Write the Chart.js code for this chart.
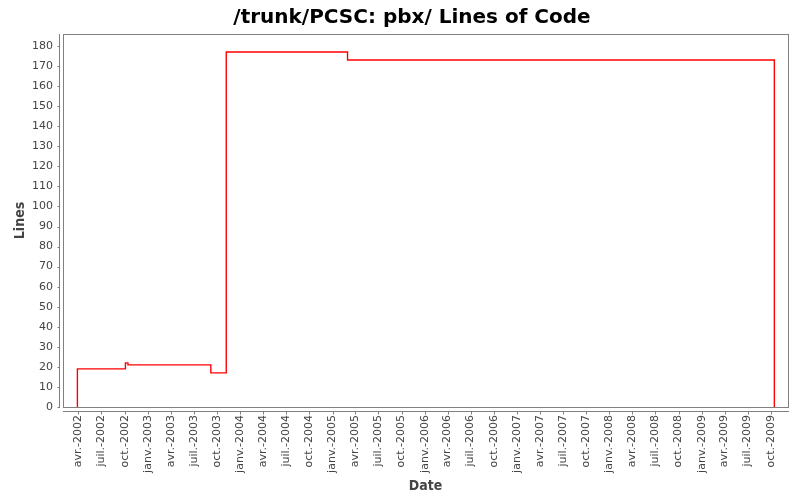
<!DOCTYPE html>
<html>
<head>
<meta charset="utf-8">
<script src="https://cdn.jsdelivr.net/npm/chart.js@4/dist/chart.umd.min.js"></script>
<style>
  html, body { margin: 0; padding: 0; background: #fff; }
  #chart { display: block; }
</style>
</head>
<body>
<canvas id="chart" width="800" height="500"></canvas>
<script>
// Commits (date) and lines of code
const commitDates = ['2002-03-28', '2002-03-28', '2002-10-04', '2002-10-14', '2003-09-07', '2003-11-07', '2005-03-01', '2009-10-15'];
const linesOfCode = [0, 19, 22, 21, 17, 177, 173, 0];

// Axis range
const dateMin = '2002-01-30';
const dateMax = '2009-12-08';
const linesMax = 186;

// Quarter ticks: avr.-2002 ... oct.-2009
const monthNames = ['janv.', 'févr.', 'mars', 'avr.', 'mai', 'juin', 'juil.', 'août', 'sept.', 'oct.', 'nov.', 'déc.'];
const quarterTicks = [];
for (let y = 2002, m = 3; y < 2009 || (y === 2009 && m <= 9); m += 3) {
  if (m > 11) { m -= 12; y++; }
  quarterTicks.push(Date.UTC(y, m, 1));
}

const FONT = "'DejaVu Sans', sans-serif";
const AXIS_GREY = '#808080';

// JFreeChart-like frame: plot outline + axis lines offset from it
const framePlugin = {
  id: 'frame',
  afterLayout(chart) {
    // left padding only serves to centre the title; let the y axis use it
    chart.scales.y.left = 0;
  },
  afterDraw(chart) {
    const { ctx, chartArea: a, scales } = chart;
    ctx.save();
    ctx.strokeStyle = AXIS_GREY;
    ctx.lineWidth = 1;
    ctx.strokeRect(a.left + 0.5, a.top + 0.5, a.right - a.left, a.bottom - a.top);

    // y axis
    const ax = a.left - 4 + 0.5;
    ctx.beginPath();
    ctx.moveTo(ax, a.top);
    ctx.lineTo(ax, a.bottom + 1);
    scales.y.ticks.forEach(t => {
      const py = Math.round(scales.y.getPixelForValue(t.value)) + 0.5;
      ctx.moveTo(ax - 2, py);
      ctx.lineTo(ax, py);
    });
    // x axis
    const ay = a.bottom + 4 + 0.5;
    ctx.moveTo(a.left, ay);
    ctx.lineTo(a.right + 1, ay);
    scales.x.ticks.forEach(t => {
      const px = Math.round(scales.x.getPixelForValue(t.value)) + 0.5;
      ctx.moveTo(px, ay);
      ctx.lineTo(px, ay + 3);
    });
    ctx.stroke();
    ctx.restore();
  }
};

new Chart(document.getElementById('chart'), {
  type: 'line',
  data: {
    datasets: [{
      label: 'Lines',
      data: commitDates.map((d, i) => ({ x: Date.parse(d), y: linesOfCode[i] })),
      borderColor: '#ff0000',
      borderWidth: 1.4,
      pointRadius: 0,
      stepped: 'before',
      fill: false
    }]
  },
  options: {
    responsive: false,
    animation: false,
    devicePixelRatio: 1,
    layout: { padding: { left: 36, right: 12, top: 0, bottom: 0 } },
    plugins: {
      legend: { display: false },
      tooltip: { enabled: false },
      title: {
        display: true,
        text: '/trunk/PCSC: pbx/ Lines of Code',
        color: '#000',
        font: { family: "'DejaVu Sans', sans-serif", size: 20, weight: 'bold', lineHeight: 1.2 },
        padding: { top: 6, bottom: 4 }
      }
    },
    scales: {
      x: {
        type: 'linear',
        bounds: 'data',
        min: Date.parse(dateMin),
        max: Date.parse(dateMax),
        afterBuildTicks: scale => { scale.ticks = quarterTicks.map(v => ({ value: v })); },
        afterFit: scale => { scale.height = 93; },
        grid: { display: true, drawOnChartArea: false, drawTicks: false },
        border: { display: false },
        ticks: {
          autoSkip: false,
          minRotation: 90,
          maxRotation: 90,
          padding: 8,
          color: '#444',
          font: { family: FONT, size: 11 },
          callback: v => {
            const d = new Date(v);
            return monthNames[d.getUTCMonth()] + '-' + d.getUTCFullYear();
          }
        },
        title: {
          display: true,
          text: 'Date',
          color: '#444',
          font: { family: "'DejaVu Sans Condensed', 'DejaVu Sans', sans-serif", size: 14, weight: 'bold', lineHeight: 1.2 },
          padding: { top: 0, bottom: 5 }
        }
      },
      y: {
        bounds: 'data',
        min: 0,
        max: linesMax,
        afterBuildTicks: scale => { scale.ticks = scale.ticks.filter(t => t.value % 10 === 0); },
        afterFit: scale => { scale.width = 27; },
        grid: { display: true, drawOnChartArea: false, drawTicks: false },
        border: { display: false },
        ticks: {
          stepSize: 10,
          includeBounds: false,
          padding: 10,
          color: '#444',
          font: { family: FONT, size: 11 }
        },
        title: {
          display: true,
          text: 'Lines',
          color: '#444',
          font: { family: "'DejaVu Sans Condensed', 'DejaVu Sans', sans-serif", size: 14, weight: 'bold', lineHeight: 1.2 },
          padding: { top: 12, bottom: 0 }
        }
      }
    }
  },
  plugins: [framePlugin]
});
</script>
</body>
</html>
